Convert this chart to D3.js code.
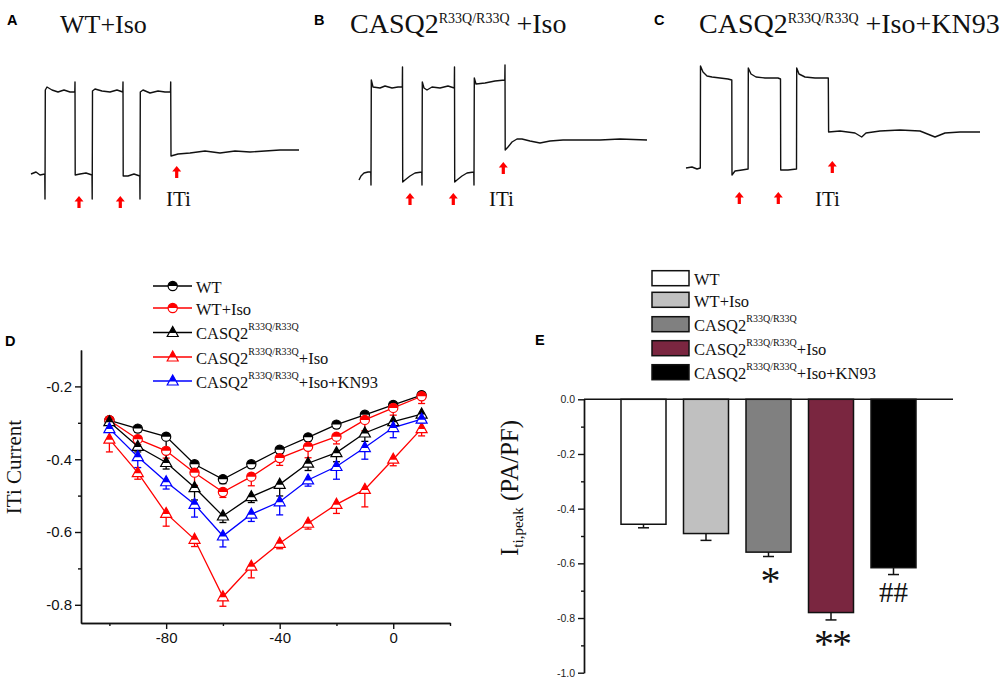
<!DOCTYPE html>
<html>
<head>
<meta charset="utf-8">
<script src="https://cdn.jsdelivr.net/npm/d3@7"></script>
<style>
  body { margin: 0; background: #fff; }
  svg { display: block; }
</style>
</head>
<body>
<div id="fig"></div>
<script>
// ---- panels A-C: recorded current traces, [time (ms), current (pA)] ----
const traceA = [[0,0],[50,10],[90,-5],[138,0],[140,-125],[143,420],[160,435],[210,420],[270,410],[330,420],
  [390,410],[438,410],[440,460],[442,-5],[490,0],[550,5],[610,-5],[612,-125],[615,415],[640,425],[710,415],
  [790,410],[860,420],[918,410],[920,460],[922,-10],[970,-10],[1030,0],[1088,-10],[1090,-125],[1093,410],
  [1120,420],[1190,405],[1270,415],[1340,410],[1395,410],[1397,460],[1400,90],[1470,100],[1590,105],
  [1740,115],[1890,105],[2040,115],[2190,110],[2340,115],[2490,120],[2680,120]];
const traceB = [[0,-25],[20,-5],[50,10],[90,15],[118,15],[120,-50],[123,475],[140,440],[210,435],[260,445],
  [330,435],[390,440],[433,440],[435,540],[437,-35],[460,-25],[510,-5],[560,10],[628,15],[630,-50],[633,465],
  [650,435],[680,425],[730,440],[810,435],[890,445],[953,435],[955,540],[957,-35],[980,-25],[1030,-5],
  [1080,10],[1148,15],[1150,-50],[1153,485],[1170,455],[1260,460],[1360,470],[1458,475],[1460,550],
  [1462,125],[1490,140],[1530,165],[1580,180],[1630,180],[1710,170],[1810,160],[1910,170],[2040,175],
  [2210,175],[2410,175],[2610,180],[2880,175]];
const traceC = [[0,0],[60,5],[110,-5],[143,0],[145,510],[170,480],[210,460],[260,455],[340,450],[420,445],
  [458,440],[460,-35],[490,-15],[560,-10],[621,-5],[623,500],[650,470],[700,455],[790,450],[920,450],
  [945,445],[947,-10],[1020,-10],[1105,-5],[1107,500],[1130,470],[1190,455],[1290,450],[1423,450],
  [1426,180],[1540,185],[1690,175],[1757,155],[1800,175],[1940,185],[2140,190],[2340,185],[2440,165],
  [2490,155],[2590,175],[2740,180],[2940,180]];
const arrowsA = [480, 893, 1457];
const arrowsB = [510, 943, 1443];
const arrowsC = [533, 923, 1463];

// ---- panel D: ITi current vs voltage ----
const voltages = [-100, -90, -80, -70, -60, -50, -40, -30, -20, -10, 0, 10];
const wtMean      = [-0.293, -0.316, -0.338, -0.414, -0.455, -0.414, -0.374, -0.340, -0.305, -0.278, -0.251, -0.224];
const wtErr       = [0.005, 0.010, 0.030, 0.010, 0.012, 0.010, 0.010, 0.010, 0.010, 0.008, 0.008, 0.008];
const wtIsoMean   = [-0.293, -0.345, -0.377, -0.437, -0.490, -0.448, -0.397, -0.366, -0.338, -0.292, -0.259, -0.227];
const wtIsoErr    = [0.010, 0.015, 0.020, 0.035, 0.015, 0.025, 0.020, 0.030, 0.020, 0.030, 0.020, 0.020];
const casqMean    = [-0.297, -0.365, -0.409, -0.478, -0.556, -0.503, -0.469, -0.411, -0.382, -0.328, -0.297, -0.276];
const casqErr     = [0.010, 0.015, 0.018, 0.034, 0.018, 0.016, 0.032, 0.020, 0.025, 0.023, 0.014, 0.011];
const casqIsoMean = [-0.345, -0.437, -0.549, -0.620, -0.778, -0.694, -0.631, -0.576, -0.524, -0.483, -0.400, -0.316];
const casqIsoErr  = [0.035, 0.018, 0.035, 0.020, 0.026, 0.032, 0.015, 0.016, 0.025, 0.048, 0.018, 0.020];
const kn93Mean    = [-0.316, -0.393, -0.462, -0.524, -0.611, -0.551, -0.517, -0.457, -0.420, -0.368, -0.313, -0.290];
const kn93Err     = [0.010, 0.030, 0.020, 0.035, 0.030, 0.020, 0.036, 0.017, 0.035, 0.032, 0.028, 0.010];

// ---- panel E: peak ITi ----
const groups   = ['WT', 'WT+Iso', 'CASQ2', 'CASQ2+Iso', 'CASQ2+Iso+KN93'];
const peakMean = [-0.457, -0.491, -0.559, -0.780, -0.616];
const peakErr  = [0.013, 0.025, 0.016, 0.027, 0.025];
const sigMarks = ['', '', '*', '**', '##'];

const SERIF = "'Liberation Serif', 'Times New Roman', serif";
const SANS = "'Liberation Sans', Arial, sans-serif";
const SUP = 'R33Q/R33Q';

const svg = d3.select('#fig').append('svg')
  .attr('width', 1000).attr('height', 679)
  .attr('viewBox', [0, 0, 1000, 679]);

function label(x, y, s) {
  svg.append('text').attr('x', x).attr('y', y)
    .attr('font-family', SANS).attr('font-weight', 'bold').attr('font-size', 14.5).text(s);
}

// text with optional superscript, e.g. CASQ2^R33Q/R33Q +Iso
function richText(g, x, y, base, sup, tail, fs, ss, rise) {
  const t = g.append('text').attr('x', x).attr('y', y)
    .attr('font-family', SERIF).attr('font-size', fs).attr('fill', '#111');
  t.append('tspan').text(base);
  if (sup) {
    t.append('tspan').attr('font-size', ss).attr('dy', -rise).text(sup);
    if (tail) t.append('tspan').attr('dy', rise).text(tail);
  }
  return t;
}

// ---------- traces ----------
function drawTrace(data, arrows, xr, y0, arrowY, itiX) {
  const x = d3.scaleLinear([0, d3.max(data, d => d[0])], xr);
  const y = d3.scaleLinear([0, 500], [y0, y0 - 100]);
  const line = d3.line().x(d => x(d[0])).y(d => y(d[1]));
  svg.append('path').attr('d', line(data))
    .attr('fill', 'none').attr('stroke', '#111').attr('stroke-width', 1.4)
    .attr('stroke-linejoin', 'round');
  const arrow = 'M0,0L4.5,5.5L1.6,5.5L1.6,12L-1.6,12L-1.6,5.5L-4.5,5.5Z';
  arrows.forEach((t, i) => {
    svg.append('path').attr('d', arrow)
      .attr('transform', `translate(${x(t)},${arrowY[i]})`)
      .attr('fill', '#f00');
  });
  svg.append('text').attr('x', itiX).attr('y', 206)
    .attr('font-family', SERIF).attr('font-size', 21).attr('fill', '#111').text('ITi');
}

drawTrace(traceA, arrowsA, [31, 299], 174, [196, 196, 166], 166);
drawTrace(traceB, arrowsB, [359, 647], 175, [193, 193, 162], 489);
drawTrace(traceC, arrowsC, [686, 980], 168, [192, 192, 161], 815);

label(7, 25, 'A'); label(314, 25, 'B'); label(654, 25, 'C');
label(5, 346, 'D'); label(535, 345, 'E');

svg.append('text').attr('x', 60).attr('y', 33)
  .attr('font-family', SERIF).attr('font-size', 26).attr('fill', '#111').text('WT+Iso');
richText(svg, 350, 33, 'CASQ2', SUP, ' +Iso', 28, 14, 10);
richText(svg, 699, 33, 'CASQ2', SUP, ' +Iso+KN93', 28, 14, 10);

// ---------- panel D ----------
const xD = d3.scaleLinear([-110, 20], [81, 450]);
const yD = d3.scaleLinear([-0.85, -0.1], [623, 350]);

const series = [
  { mean: wtMean, err: wtErr, color: '#000', shape: 'circle', base: 'WT' },
  { mean: wtIsoMean, err: wtIsoErr, color: '#f00', shape: 'circle', base: 'WT+Iso' },
  { mean: casqMean, err: casqErr, color: '#000', shape: 'tri', base: 'CASQ2', sup: SUP },
  { mean: casqIsoMean, err: casqIsoErr, color: '#f00', shape: 'tri', base: 'CASQ2', sup: SUP, tail: '+Iso' },
  { mean: kn93Mean, err: kn93Err, color: '#00f', shape: 'tri', base: 'CASQ2', sup: SUP, tail: '+Iso+KN93' },
];

function marker(g, shape, color) {
  if (shape === 'circle') {
    g.append('circle').attr('r', 4.6).attr('fill', '#fff').attr('stroke', color).attr('stroke-width', 1.2);
    g.append('path').attr('d', 'M-4.6,0A4.6,4.6 0 0 1 4.6,0Z').attr('fill', color);
  } else {
    g.append('path').attr('d', 'M0,-6L5.5,4L-5.5,4Z')
      .attr('fill', '#fff').attr('stroke', color).attr('stroke-width', 1.2);
    g.append('path').attr('d', 'M0,-6L3.6,0.5L-3.6,0.5Z').attr('fill', color);
  }
}

const axD = svg.append('g').attr('font-family', SANS);
axD.append('g').attr('transform', 'translate(81,0)')
  .call(d3.axisLeft(yD).tickValues([-0.8, -0.6, -0.4, -0.2]).tickSize(6).tickSizeOuter(0)
    .tickFormat(d => d.toFixed(1)));
axD.append('g').attr('transform', 'translate(81,0)')
  .call(d3.axisLeft(yD).tickValues([-0.7, -0.5, -0.3]).tickSize(3).tickSizeOuter(0).tickFormat(''));
axD.append('g').attr('transform', 'translate(0,623)')
  .call(d3.axisBottom(xD).tickValues([-80, -40, 0]).tickSize(6).tickSizeOuter(0)
    .tickFormat(d => String(d)));
axD.append('g').attr('transform', 'translate(0,623)')
  .call(d3.axisBottom(xD).tickValues([-100, -60, -20, 20]).tickSize(3).tickSizeOuter(0).tickFormat(''));
axD.selectAll('path, line').attr('stroke', '#111').attr('stroke-width', 1.4);
axD.selectAll('text').attr('font-size', 15).attr('fill', '#111').attr('font-family', SANS);

svg.append('text').attr('transform', 'translate(21,467) rotate(-90)')
  .attr('text-anchor', 'middle').attr('font-family', SERIF).attr('font-size', 21)
  .attr('fill', '#111').text('ITi Current');

const plotD = svg.append('g');
series.forEach(s => {
  const pts = voltages.map((v, i) => ({ v, m: s.mean[i], e: s.err[i] }));
  plotD.append('path')
    .attr('d', d3.line().x(d => xD(d.v)).y(d => yD(d.m))(pts))
    .attr('fill', 'none').attr('stroke', s.color).attr('stroke-width', 1.3);
  const eb = plotD.append('g').attr('stroke', s.color).attr('stroke-width', 1.3);
  pts.forEach(d => {
    eb.append('line').attr('x1', xD(d.v)).attr('x2', xD(d.v))
      .attr('y1', yD(d.m)).attr('y2', yD(d.m - d.e));
    eb.append('line').attr('x1', xD(d.v) - 3.5).attr('x2', xD(d.v) + 3.5)
      .attr('y1', yD(d.m - d.e)).attr('y2', yD(d.m - d.e));
  });
  s.pts = pts;
});
series.forEach(s => {
  s.pts.forEach(d => {
    marker(plotD.append('g').attr('transform', `translate(${xD(d.v)},${yD(d.m)})`), s.shape, s.color);
  });
});

// legend D
const legRowsD = [286, 308, 332.5, 357, 381];
series.forEach((s, i) => {
  const g = svg.append('g');
  const yy = legRowsD[i];
  g.append('line').attr('x1', 153).attr('x2', 192).attr('y1', yy).attr('y2', yy)
    .attr('stroke', s.color).attr('stroke-width', 1.3);
  marker(g.append('g').attr('transform', `translate(172.7,${yy})`), s.shape, s.color);
  richText(g, 196, yy + 6.5, s.base, s.sup, s.tail, 16.5, 10, 9);
});

// ---------- panel E ----------
const xE = d3.scaleBand(groups, [584, 953]).paddingInner(0.28).paddingOuter(0.592);
const yE = d3.scaleLinear([-1.0, 0], [672.7, 399.3]);
const fills = ['#ffffff', '#c0c0c0', '#808080', '#7a2640', '#000000'];

const axE = svg.append('g');
axE.append('g').attr('transform', 'translate(584,0)')
  .call(d3.axisLeft(yE).tickValues(d3.range(0, 6).map(i => -i * 0.2)).tickSize(6).tickSizeOuter(0)
    .tickFormat(d => (Math.abs(d) < 1e-9 ? '0.0' : d.toFixed(1))));
axE.append('g').attr('transform', 'translate(584,0)')
  .call(d3.axisLeft(yE).tickValues([-0.1, -0.3, -0.5, -0.7, -0.9]).tickSize(3).tickSizeOuter(0).tickFormat(''));
axE.selectAll('path, line').attr('stroke', '#111').attr('stroke-width', 1.4);
axE.selectAll('text').attr('font-size', 10.5).attr('fill', '#222').attr('font-family', SANS);

const barsE = svg.append('g');
groups.forEach((gname, i) => {
  barsE.append('rect')
    .attr('x', xE(gname)).attr('width', xE.bandwidth())
    .attr('y', yE(0)).attr('height', yE(peakMean[i]) - yE(0))
    .attr('fill', fills[i]).attr('stroke', '#111').attr('stroke-width', 1.5);
  const cx = xE(gname) + xE.bandwidth() / 2;
  const low = yE(peakMean[i] - peakErr[i]);
  barsE.append('line').attr('x1', cx).attr('x2', cx)
    .attr('y1', yE(peakMean[i])).attr('y2', low)
    .attr('stroke', '#111').attr('stroke-width', 1.5);
  barsE.append('line').attr('x1', cx - 5.5).attr('x2', cx + 5.5)
    .attr('y1', low).attr('y2', low)
    .attr('stroke', '#111').attr('stroke-width', 1.5);
  if (sigMarks[i]) {
    const isHash = sigMarks[i].startsWith('#');
    barsE.append('text').attr('x', cx + (isHash ? 0 : 1))
      .attr('y', low + (isHash ? 27 : 37))
      .attr('text-anchor', 'middle').attr('font-family', SERIF)
      .attr('letter-spacing', isHash ? 0 : -2)
      .attr('font-size', isHash ? 29 : 40).attr('fill', '#111').text(sigMarks[i]);
  }
});
// zero line
svg.append('line').attr('x1', 584).attr('x2', 953).attr('y1', yE(0)).attr('y2', yE(0))
  .attr('stroke', '#111').attr('stroke-width', 1.5);

const ylabE = svg.append('text').attr('transform', 'translate(518,488) rotate(-90)')
  .attr('text-anchor', 'middle').attr('font-family', SERIF).attr('font-size', 25).attr('fill', '#111');
ylabE.append('tspan').text('I');
ylabE.append('tspan').attr('font-size', 15).attr('dy', 5).text('ti,peak');
ylabE.append('tspan').attr('dy', -5).text(' (PA/PF)');

// legend E
const legRowsE = [270.7, 292.3, 316.7, 340.7, 364.7];
const legPartsE = [
  { base: 'WT' }, { base: 'WT+Iso' }, { base: 'CASQ2', sup: SUP },
  { base: 'CASQ2', sup: SUP, tail: '+Iso' }, { base: 'CASQ2', sup: SUP, tail: '+Iso+KN93' },
];
legPartsE.forEach((p, i) => {
  svg.append('rect').attr('x', 652).attr('y', legRowsE[i]).attr('width', 37).attr('height', 15)
    .attr('fill', fills[i]).attr('stroke', '#111').attr('stroke-width', 1.5);
  richText(svg, 694, legRowsE[i] + 14.5, p.base, p.sup, p.tail, 16.5, 10, 9);
});
</script>
</body>
</html>
